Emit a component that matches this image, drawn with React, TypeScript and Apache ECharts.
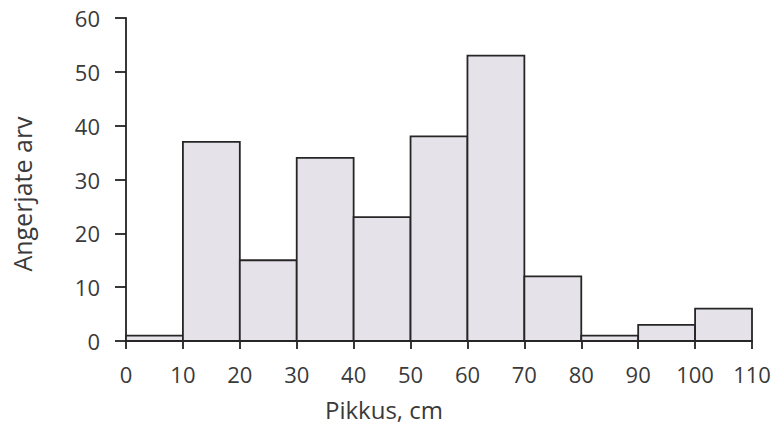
import React, { useEffect, useRef } from "react";
import * as echarts from "echarts";

const binStarts = [0, 10, 20, 30, 40, 50, 60, 70, 80, 90, 100];
const binWidth = 10;
const counts = [1, 37, 15, 34, 23, 38, 53, 12, 1, 3, 6];
const xTitle = "Pikkus, cm";
const yTitle = "Angerjate arv";

export default function App() {
  const ref = useRef<HTMLDivElement>(null);
  useEffect(() => {
    if (!ref.current) return;
    const chart = echarts.init(ref.current, null, { renderer: "svg" });
    const font = "'Open Sans', sans-serif";
    const textColor = "#3a3a3a";
    const data = binStarts.map((s, i) => [s, s + binWidth, counts[i]]);
    chart.setOption({
      animation: false,
      backgroundColor: "#ffffff",
      grid: { left: 126, right: 23, top: 18, bottom: 85 },
      xAxis: {
        type: "value",
        min: 0,
        max: 110,
        interval: 10,
        splitLine: { show: false },
        axisLine: { show: true, lineStyle: { color: "#222", width: 1.8 } },
        axisTick: { show: true, length: 8, lineStyle: { color: "#222", width: 1.8 } },
        axisLabel: { color: textColor, fontSize: 22, fontFamily: font, margin: 22 },
      },
      yAxis: {
        type: "value",
        min: 0,
        max: 60,
        interval: 10,
        splitLine: { show: false },
        axisLine: { show: true, lineStyle: { color: "#222", width: 1.8 } },
        axisTick: { show: true, length: 11, lineStyle: { color: "#222", width: 1.8 } },
        axisLabel: { color: textColor, fontSize: 22, fontFamily: font, margin: 26 },
      },
      graphic: [
        {
          type: "text",
          x: 325,
          y: 409,
          style: { text: xTitle, fill: textColor, font: `24px ${font}`, verticalAlign: "middle" },
        },
        {
          type: "text",
          x: 22,
          y: 194,
          rotation: Math.PI / 2,
          style: {
            text: yTitle,
            fill: textColor,
            font: `25px ${font}`,
            align: "center",
            verticalAlign: "middle",
          },
        },
      ],
      series: [
        {
          type: "custom",
          data,
          encode: { x: [0, 1], y: 2 },
          renderItem: (params: any, api: any) => {
            const p0 = api.coord([api.value(0), api.value(2)]);
            const p1 = api.coord([api.value(1), 0]);
            return {
              type: "rect",
              shape: { x: p0[0], y: p0[1], width: p1[0] - p0[0], height: p1[1] - p0[1] },
              style: { fill: "#e5e2e9", stroke: "#262626", lineWidth: 1.8 },
            };
          },
        },
      ],
    });
    return () => chart.dispose();
  }, []);
  return (
    <div
      ref={ref}
      style={{ position: "fixed", left: 0, top: 0, width: 775, height: 426 }}
    />
  );
}
